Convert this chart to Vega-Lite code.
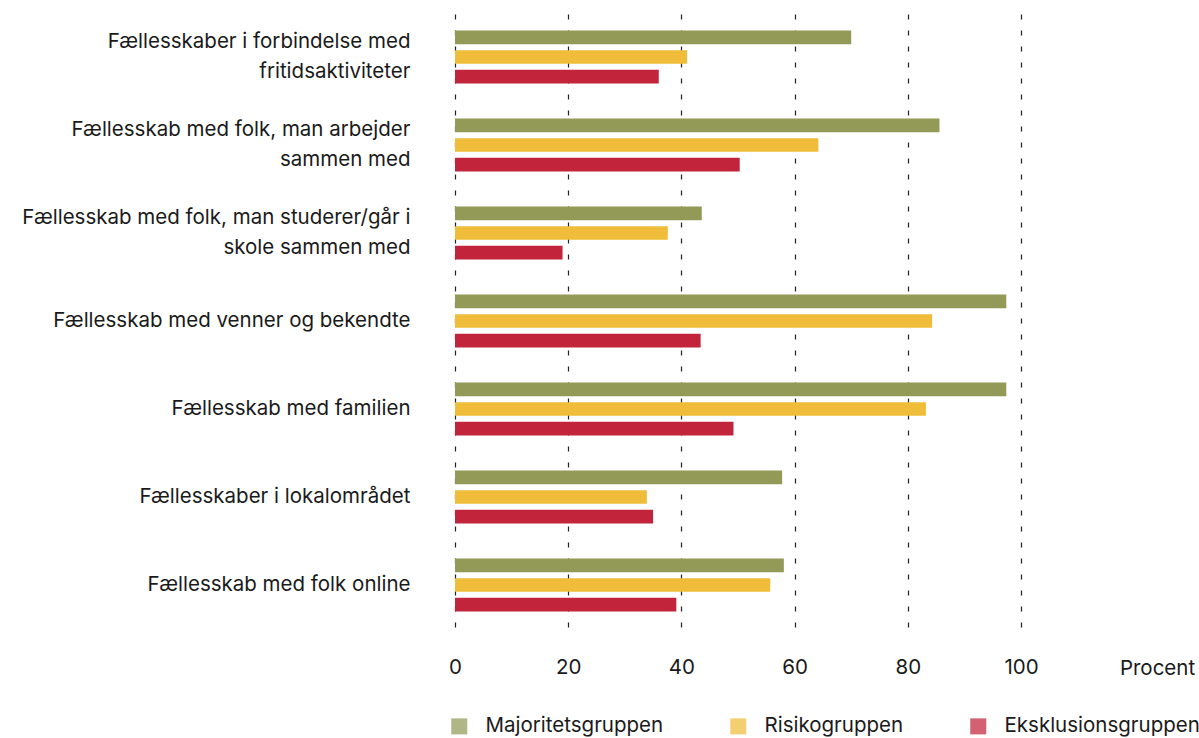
{
  "$schema": "https://vega.github.io/schema/vega-lite/v6.json",
  "width": 566,
  "height": 616,
  "autosize": {"type": "none"},
  "padding": {"left": 455, "top": 13, "right": 178, "bottom": 109},
  "background": "white",
  "config": {
    "font": "Inter",
    "view": {"stroke": null},
    "axis": {"labelFont": "Inter", "titleFont": "Inter", "labelColor": "#1a1a1a", "titleColor": "#1a1a1a"},
    "legend": {"labelFont": "Inter"}
  },
  "data": {
    "values": [
      {"kategori": "Fællesskaber i forbindelse med fritidsaktiviteter", "gruppe": "Majoritetsgruppen", "procent": 70},
      {"kategori": "Fællesskaber i forbindelse med fritidsaktiviteter", "gruppe": "Risikogruppen", "procent": 41},
      {"kategori": "Fællesskaber i forbindelse med fritidsaktiviteter", "gruppe": "Eksklusionsgruppen", "procent": 36},
      {"kategori": "Fællesskab med folk, man arbejder sammen med", "gruppe": "Majoritetsgruppen", "procent": 85.6},
      {"kategori": "Fællesskab med folk, man arbejder sammen med", "gruppe": "Risikogruppen", "procent": 64.2},
      {"kategori": "Fællesskab med folk, man arbejder sammen med", "gruppe": "Eksklusionsgruppen", "procent": 50.3},
      {"kategori": "Fællesskab med folk, man studerer/går i skole sammen med", "gruppe": "Majoritetsgruppen", "procent": 43.6},
      {"kategori": "Fællesskab med folk, man studerer/går i skole sammen med", "gruppe": "Risikogruppen", "procent": 37.6},
      {"kategori": "Fællesskab med folk, man studerer/går i skole sammen med", "gruppe": "Eksklusionsgruppen", "procent": 19},
      {"kategori": "Fællesskab med venner og bekendte", "gruppe": "Majoritetsgruppen", "procent": 97.4},
      {"kategori": "Fællesskab med venner og bekendte", "gruppe": "Risikogruppen", "procent": 84.3},
      {"kategori": "Fællesskab med venner og bekendte", "gruppe": "Eksklusionsgruppen", "procent": 43.4},
      {"kategori": "Fællesskab med familien", "gruppe": "Majoritetsgruppen", "procent": 97.4},
      {"kategori": "Fællesskab med familien", "gruppe": "Risikogruppen", "procent": 83.2},
      {"kategori": "Fællesskab med familien", "gruppe": "Eksklusionsgruppen", "procent": 49.2},
      {"kategori": "Fællesskaber i lokalområdet", "gruppe": "Majoritetsgruppen", "procent": 57.8},
      {"kategori": "Fællesskaber i lokalområdet", "gruppe": "Risikogruppen", "procent": 33.9},
      {"kategori": "Fællesskaber i lokalområdet", "gruppe": "Eksklusionsgruppen", "procent": 35},
      {"kategori": "Fællesskab med folk online", "gruppe": "Majoritetsgruppen", "procent": 58.1},
      {"kategori": "Fællesskab med folk online", "gruppe": "Risikogruppen", "procent": 55.7},
      {"kategori": "Fællesskab med folk online", "gruppe": "Eksklusionsgruppen", "procent": 39.1}
    ]
  },
  "mark": {"type": "bar"},
  "encoding": {
    "y": {
      "field": "kategori",
      "type": "nominal",
      "sort": null,
      "scale": {"paddingInner": 0.33, "paddingOuter": 0.165},
      "axis": {
        "title": null,
        "domain": false,
        "ticks": false,
        "labelPadding": 45,
        "labelFontSize": 20.5,
        "labelLineHeight": 30,
        "labelLimit": 0,
        "labelOffset": {"condition": {"test": "length(datum.value) > 34", "value": -15}, "value": 0},
        "labelExpr": "datum.value == 'Fællesskaber i forbindelse med fritidsaktiviteter' ? ['Fællesskaber i forbindelse med', 'fritidsaktiviteter'] : datum.value == 'Fællesskab med folk, man arbejder sammen med' ? ['Fællesskab med folk, man arbejder', 'sammen med'] : datum.value == 'Fællesskab med folk, man studerer/går i skole sammen med' ? ['Fællesskab med folk, man studerer/går i', 'skole sammen med'] : datum.value"
      }
    },
    "yOffset": {
      "field": "gruppe",
      "type": "nominal",
      "sort": ["Majoritetsgruppen", "Risikogruppen", "Eksklusionsgruppen"],
      "scale": {"paddingInner": 0.31, "paddingOuter": 0.155}
    },
    "x": {
      "field": "procent",
      "type": "quantitative",
      "scale": {"domain": [0, 100], "nice": false},
      "axis": {
        "values": [0, 20, 40, 60, 80, 100],
        "title": "Procent",
        "titleFontSize": 20.5,
        "titleFontWeight": "normal",
        "titleX": 702,
        "titleY": 39,
        "titleAlign": "center",
        "titleBaseline": "middle",
        "domain": false,
        "ticks": false,
        "labelFlush": false,
        "labelPadding": 28,
        "labelFontSize": 20.5,
        "grid": true,
        "gridColor": "#222222",
        "gridDash": [5, 11],
        "gridDashOffset": 14,
        "gridWidth": 1.2,
        "gridOpacity": 1
      }
    },
    "color": {
      "field": "gruppe",
      "type": "nominal",
      "sort": ["Majoritetsgruppen", "Risikogruppen", "Eksklusionsgruppen"],
      "scale": {
        "domain": ["Majoritetsgruppen", "Risikogruppen", "Eksklusionsgruppen"],
        "range": ["#939a58", "#f0bd3a", "#c2243c"]
      },
      "legend": {
        "title": null,
        "orient": "none",
        "direction": "horizontal",
        "legendX": -6,
        "legendY": 703,
        "symbolType": "square",
        "symbolSize": 256,
        "symbolOpacity": 0.72,
        "symbolStrokeWidth": 0,
        "labelFontSize": 20.5,
        "labelLimit": 0,
        "labelColor": "#1a1a1a",
        "labelOffset": 16,
        "columnPadding": 64
      }
    }
  }
}
